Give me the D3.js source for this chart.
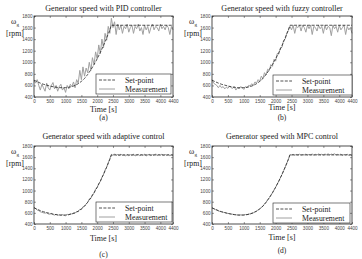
<!DOCTYPE html>
<html>
<head>
<meta charset="utf-8">
<script src="https://cdn.jsdelivr.net/npm/d3@7"></script>
<style>
  html, body { margin: 0; padding: 0; background: #fff; }
  svg { display: block; font-family: "Liberation Serif", "Times New Roman", serif; }
  .tick text { fill: #444; }
</style>
</head>
<body>
<div id="chart"></div>
<script>
const X_TICKS = [0, 500, 1000, 1500, 2000, 2500, 3000, 3500, 4000, 4400];
const Y_TICKS = [400, 600, 800, 1000, 1200, 1400, 1600, 1800];

const titles = [
  'Generator speed with PID controller',
  'Generator speed with fuzzy controller',
  'Generator speed with adaptive control',
  'Generator speed with MPC control'
];
const letters = ['(a)', '(b)', '(c)', '(d)'];

const setTime = [0, 100, 200, 300, 400, 500, 600, 700, 800, 900, 1000, 1100, 1200, 1300, 1400,
  1500, 1600, 1700, 1800, 1900, 2000, 2100, 2200, 2300, 2400, 2450, 4400];
const setValue = [690, 665, 640, 620, 605, 590, 578, 568, 562, 560, 562, 568, 580, 600, 630,
  670, 720, 790, 870, 960, 1060, 1170, 1290, 1420, 1560, 1640, 1640];

const measTime = [0, 50, 100, 150, 200, 250, 300, 350, 400, 450, 500, 550, 600, 650, 700, 750,
  800, 850, 900, 950, 1000, 1050, 1100, 1150, 1200, 1250, 1300, 1350, 1400, 1450, 1500, 1550,
  1600, 1650, 1700, 1750, 1800, 1850, 1900, 1950, 2000, 2050, 2100, 2150, 2200, 2250, 2300, 2350,
  2400, 2450, 2500, 2550, 2600, 2650, 2700, 2750, 2800, 2850, 2900, 2950, 3000, 3050, 3100, 3150,
  3200, 3250, 3300, 3350, 3400, 3450, 3500, 3550, 3600, 3650, 3700, 3750, 3800, 3850, 3900, 3950,
  4000, 4050, 4100, 4150, 4200, 4250, 4300, 4350, 4400];

const measPID = [680, 640, 700, 600, 520, 620, 560, 500, 640, 560, 520, 600, 650, 540, 600, 500,
  580, 620, 520, 560, 480, 600, 540, 620, 580, 660, 560, 700, 640, 860, 700, 920,
  760, 900, 820, 1000, 860, 1080, 960, 1180, 1060, 1300, 1150, 1400, 1250, 1500, 1380, 1620,
  1500, 1760, 1600, 1700, 1480, 1660, 1560, 1640, 1500, 1620, 1580, 1660, 1520, 1600, 1640, 1500,
  1620, 1580, 1660, 1540, 1600, 1480, 1640, 1560, 1620, 1500, 1600, 1660, 1560, 1620, 1600, 1540,
  1660, 1580, 1620, 1560, 1640, 1600, 1480, 1620, 1560];

const measFuzzy = [700, 640, 620, 600, 560, 600, 560, 580, 540, 570, 550, 590, 560, 550, 580, 520,
  560, 540, 580, 560, 530, 580, 560, 600, 590, 630, 600, 660, 640, 700, 670, 760,
  720, 820, 780, 880, 860, 960, 930, 1050, 1020, 1150, 1140, 1250, 1260, 1380, 1400, 1500,
  1550, 1620, 1560, 1640, 1500, 1620, 1600, 1640, 1540, 1640, 1600, 1520, 1640, 1580, 1640, 1480,
  1620, 1600, 1540, 1640, 1580, 1620, 1500, 1640, 1560, 1620, 1600, 1460, 1640, 1580, 1620, 1520,
  1640, 1560, 1600, 1640, 1480, 1620, 1560, 1600, 1500];

const measAdaptive = [700, 680, 650, 640, 620, 610, 600, 595, 600, 580, 575, 590, 570, 560, 575, 555,
  565, 555, 570, 555, 545, 575, 565, 585, 580, 600, 595, 625, 620, 665, 660, 710,
  720, 760, 790, 850, 860, 930, 950, 1030, 1050, 1130, 1160, 1240, 1290, 1370, 1420, 1500,
  1570, 1650, 1630, 1660, 1630, 1650, 1620, 1655, 1630, 1640, 1620, 1650, 1625, 1645, 1630, 1655,
  1620, 1640, 1650, 1625, 1645, 1630, 1655, 1620, 1640, 1650, 1625, 1645, 1630, 1660, 1625, 1645,
  1635, 1655, 1620, 1650, 1630, 1645, 1625, 1640, 1630];

const measMPC = [690, 675, 660, 650, 635, 625, 620, 610, 605, 595, 590, 585, 580, 575, 570, 565,
  562, 558, 565, 560, 560, 570, 568, 578, 582, 595, 602, 620, 630, 655, 670, 700,
  720, 760, 790, 835, 870, 915, 960, 1010, 1060, 1115, 1170, 1230, 1290, 1355, 1420, 1490,
  1560, 1645, 1640, 1650, 1635, 1648, 1638, 1652, 1636, 1646, 1640, 1655, 1638, 1648, 1642, 1656,
  1636, 1650, 1640, 1658, 1642, 1652, 1638, 1656, 1644, 1660, 1640, 1655, 1645, 1662, 1640, 1650,
  1638, 1655, 1630, 1648, 1640, 1652, 1632, 1645, 1625];

const measurements = [measPID, measFuzzy, measAdaptive, measMPC];

const W = 362, H = 259;
// plot boxes and label positions for each panel
const layout = [
  { x0: 34, x1: 173, y0: 16, y1: 97, titleY: 11, timeY: 112, letterY: 120, legX: 96, legW: 75, legY: 74 },
  { x0: 212, x1: 352, y0: 16, y1: 97, titleY: 11, timeY: 110, letterY: 120, legX: 273, legW: 79, legY: 75 },
  { x0: 34, x1: 173, y0: 146, y1: 224, titleY: 139, timeY: 241, letterY: 257, legX: 96, legW: 76, legY: 202 },
  { x0: 212, x1: 352, y0: 146, y1: 224, titleY: 139, timeY: 240, letterY: 253, legX: 273, legW: 77, legY: 203 }
];

const svg = d3.select('#chart').append('svg').attr('width', W).attr('height', H);
const fmt = d3.format('d');
const DASH = '3 1.4';

layout.forEach((L, i) => {
  const g = svg.append('g');
  const x = d3.scaleLinear().domain([0, 4400]).range([L.x0, L.x1]);
  const y = d3.scaleLinear().domain([400, 1800]).range([L.y1, L.y0]);

  const styleAxis = (sel, labels) => {
    sel.select('.domain').remove();
    sel.selectAll('.tick line').attr('stroke', '#333').attr('stroke-width', 0.5);
    sel.selectAll('.tick text').attr('font-size', 4.6).attr('font-family', 'Liberation Sans, Arial, sans-serif');
    if (!labels) sel.selectAll('.tick text').remove();
  };

  g.append('g').attr('transform', `translate(0,${L.y1})`)
    .call(d3.axisBottom(x).tickValues(X_TICKS).tickFormat(fmt).tickSize(-2).tickPadding(2.5))
    .call(s => styleAxis(s, true));
  g.append('g').attr('transform', `translate(0,${L.y0})`)
    .call(d3.axisTop(x).tickValues(X_TICKS).tickSize(-2))
    .call(s => styleAxis(s, false));
  g.append('g').attr('transform', `translate(${L.x0},0)`)
    .call(d3.axisLeft(y).tickValues(Y_TICKS).tickFormat(fmt).tickSize(-2).tickPadding(1.5))
    .call(s => styleAxis(s, true));
  g.append('g').attr('transform', `translate(${L.x1},0)`)
    .call(d3.axisRight(y).tickValues(Y_TICKS).tickSize(-2))
    .call(s => styleAxis(s, false));

  const meas = measurements[i];
  const measLine = d3.line().x((d, k) => x(measTime[k])).y(d => y(d));
  g.append('path').datum(meas).attr('d', measLine)
    .attr('fill', 'none').attr('stroke', '#a0a0a0').attr('stroke-width', 1);

  const setLine = d3.line().x((d, k) => x(setTime[k])).y(d => y(d));
  g.append('path').datum(setValue).attr('d', setLine)
    .attr('fill', 'none').attr('stroke', '#1a1a1a').attr('stroke-width', 0.75)
    .attr('stroke-dasharray', DASH);

  // box
  g.append('rect').attr('x', L.x0).attr('y', L.y0)
    .attr('width', L.x1 - L.x0).attr('height', L.y1 - L.y0)
    .attr('fill', 'none').attr('stroke', '#222').attr('stroke-width', 0.8);

  // legend
  const leg = g.append('g');
  leg.append('rect').attr('x', L.legX).attr('y', L.legY).attr('width', L.legW).attr('height', 20)
    .attr('fill', '#fff').attr('stroke', '#222').attr('stroke-width', 0.6);
  leg.append('line').attr('x1', L.legX + 3).attr('x2', L.legX + 19)
    .attr('y1', L.legY + 6).attr('y2', L.legY + 6)
    .attr('stroke', '#1a1a1a').attr('stroke-width', 0.75).attr('stroke-dasharray', DASH);
  leg.append('line').attr('x1', L.legX + 3).attr('x2', L.legX + 19)
    .attr('y1', L.legY + 15).attr('y2', L.legY + 15)
    .attr('stroke', '#a0a0a0').attr('stroke-width', 1);
  leg.append('text').attr('x', L.legX + 29).attr('y', L.legY + 8.5)
    .attr('font-size', 7.8).attr('fill', '#222').text('Set-point');
  leg.append('text').attr('x', L.legX + 29).attr('y', L.legY + 17.5)
    .attr('font-size', 7.8).attr('fill', '#222').text('Measurement');

  // texts
  const cx = (L.x0 + L.x1) / 2;
  g.append('text').attr('x', cx).attr('y', L.titleY).attr('text-anchor', 'middle')
    .attr('font-size', 8).attr('fill', '#222').text(titles[i]);
  g.append('text').attr('x', cx).attr('y', L.timeY).attr('text-anchor', 'middle')
    .attr('font-size', 8).attr('fill', '#222').text('Time [s]');
  g.append('text').attr('x', cx).attr('y', L.letterY).attr('text-anchor', 'middle')
    .attr('font-size', 7.5).attr('fill', '#222').text(letters[i]);

  const lx = L.x0 - 19;
  const om = g.append('text').attr('x', lx).attr('y', L.y0 + 8).attr('text-anchor', 'middle')
    .attr('font-size', 8).attr('fill', '#222');
  om.append('tspan').text('ω');
  om.append('tspan').attr('font-size', 5).attr('dy', 2).text('g');
  g.append('text').attr('x', lx).attr('y', L.y0 + 20).attr('text-anchor', 'middle')
    .attr('font-size', 7.8).attr('fill', '#222').text('[rpm]');
});
</script>
</body>
</html>
